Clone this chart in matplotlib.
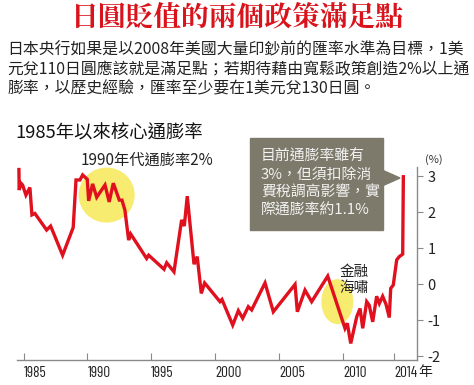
import matplotlib
matplotlib.use("Agg")
import matplotlib.pyplot as plt
from matplotlib.patches import Ellipse, Rectangle, Polygon

plt.rcParams['font.family'] = ['Noto Sans CJK TC', 'DejaVu Sans']
plt.rcParams['axes.unicode_minus'] = False

# 核心通膨率 (%)，讀圖估計
years = [1984.63, 1984.65, 1984.79, 1984.92, 1985.18, 1985.49, 1985.65, 1985.88,
         1986.80, 1987.11, 1987.37, 1988.05, 1988.88, 1989.10, 1989.41, 1989.62,
         1989.98, 1990.09, 1990.40, 1990.72, 1991.37, 1991.70, 1992.02, 1992.49,
         1992.70, 1992.93, 1993.22, 1993.38, 1994.63, 1994.79, 1995.99, 1996.20,
         1996.77, 1997.37, 1997.58, 1997.81, 1998.34, 1998.59, 1998.91, 1999.17,
         2000.37, 2000.53, 2001.37, 2001.81, 2002.15, 2002.59, 2002.85, 2003.90,
         2004.55, 2006.25, 2006.43, 2007.03, 2007.55, 2008.81, 2010.16, 2010.34,
         2010.61, 2011.08, 2011.34, 2011.55, 2011.86, 2012.06, 2012.33, 2012.64,
         2012.85, 2013.11, 2013.37, 2013.63, 2013.74, 2013.94, 2014.21, 2014.41,
         2014.68, 2014.73]
inflation = [3.19, 2.62, 2.81, 2.76, 2.48, 2.69, 1.93, 1.97,
             1.51, 1.62, 1.40, 0.81, 1.58, 2.90, 2.90, 3.04,
             2.92, 2.32, 2.79, 2.42, 2.76, 2.29, 2.81, 2.34,
             2.34, 2.06, 1.23, 1.40, 0.72, 0.81, 0.42, 0.60,
             0.35, 1.79, 1.62, 2.45, 0.56, 0.77, -0.25, 0.04,
             -0.48, -0.42, -1.13, -0.73, -0.94, -0.62, -0.71, 0.04,
             -0.76, 0.00, -0.76, -0.16, -0.48, 0.23, -1.22, -1.08,
             -1.64, -0.90, -0.67, -1.22, -0.48, -0.58, -1.04, -0.33,
             -0.53, -0.33, -0.55, -0.92, -0.11, -0.02, 0.68, 0.77,
             0.84, 2.99]

xtick_years = [1985, 1990, 1995, 2000, 2005, 2010, 2014]
ytick_values = [-2, -1, 0, 1, 2, 3]

W, H = 474, 385


def px(x, y):
    '''像素座標轉成 figure 座標'''
    return x / W, 1 - y / H


fig = plt.figure(figsize=(W / 100, H / 100), dpi=100)
fig.patch.set_facecolor('white')

# 標題與說明
fig.text(*px(237, 18), '日圓貶值的兩個政策滿足點', color='#d9131b', fontsize=20,
         fontweight='heavy', ha='center', va='center',
         family=['Noto Serif CJK TC', 'Noto Serif TC', 'Noto Sans CJK TC'])
body = ['日本央行如果是以2008年美國大量印鈔前的匯率水準為目標，1美',
        '元兌110日圓應該就是滿足點；若期待藉由寬鬆政策創造2%以上通',
        '膨率，以歷史經驗，匯率至少要在1美元兌130日圓。']
for i, line in enumerate(body):
    fig.text(*px(7, 50 + i * 19.5), line, fontsize=11.4, color='#222222',
             ha='left', va='center')
fig.text(*px(15, 133), '1985年以來核心通膨率', fontsize=13.2, color='#111111',
         fontweight='medium', ha='left', va='center')

ax = fig.add_axes([17 / W, 1 - 360 / H, (416.5 - 17) / W, (360 - 167) / H])
ax.set_facecolor('none')

# 黃色圈
ax.add_patch(Ellipse((1991.5, 2.48), 4.39, 1.53, color='#f8ec70', zorder=1, lw=0))
ax.add_patch(Ellipse((2009.56, -0.48), 2.5, 1.25, color='#f8ec70', zorder=1, lw=0))

ax.plot(years, inflation, color='#e0101e', lw=2.4, zorder=3, solid_joinstyle='miter')

ax.set_xlim(1984.48, 2015.76)
ax.set_ylim(-2.1, 3.26)

for s in ['top', 'left']:
    ax.spines[s].set_visible(False)
for s in ['bottom', 'right']:
    ax.spines[s].set_color('#8a8a8a')
    ax.spines[s].set_linewidth(1.0)

ax.set_xticks(xtick_years)
ax.set_xticklabels([str(y) for y in xtick_years], family='Barlow Condensed',
                   fontsize=11, color='#222222', ha='left')
ax.tick_params(axis='x', direction='in', length=5, color='#8a8a8a', pad=4)
ax.yaxis.tick_right()
ax.set_yticks(ytick_values)
ax.set_yticklabels([str(v) for v in ytick_values], fontsize=10.5, color='#222222')
ax.tick_params(axis='y', direction='out', length=4, color='#8a8a8a', pad=4)

fig.text(*px(425, 372), '年', fontsize=10, color='#222222', ha='center', va='center')
fig.text(*px(434, 160), '(%)', fontsize=8, color='#333333', ha='center', va='center')

# 標註文字
fig.text(*px(147, 160), '1990年代通膨率2%', fontsize=11, color='#222222',
         ha='center', va='center')
fig.text(*px(354, 280), '金融\n海嘯', fontsize=10.5, color='#222222',
         ha='center', va='center', linespacing=1.15)

# 灰色說明框
box_color = '#7e7a6b'
fig.patches.append(Rectangle(px(250, 230), 133 / W, 92 / H, transform=fig.transFigure,
                             color=box_color, zorder=5))
fig.patches.append(Polygon([px(382, 170), px(400, 178), px(382, 186)], closed=True,
                           transform=fig.transFigure, color=box_color, zorder=5))
box_lines = ['目前通膨率雖有', '3%，但須扣除消', '費稅調高影響，實', '際通膨率約1.1%']
for i, line in enumerate(box_lines):
    fig.text(*px(261, 157 + i * 18), line, fontsize=10.7, color='#f2f2f2',
             ha='left', va='center', zorder=6)

fig.savefig('out.png', dpi=100)
